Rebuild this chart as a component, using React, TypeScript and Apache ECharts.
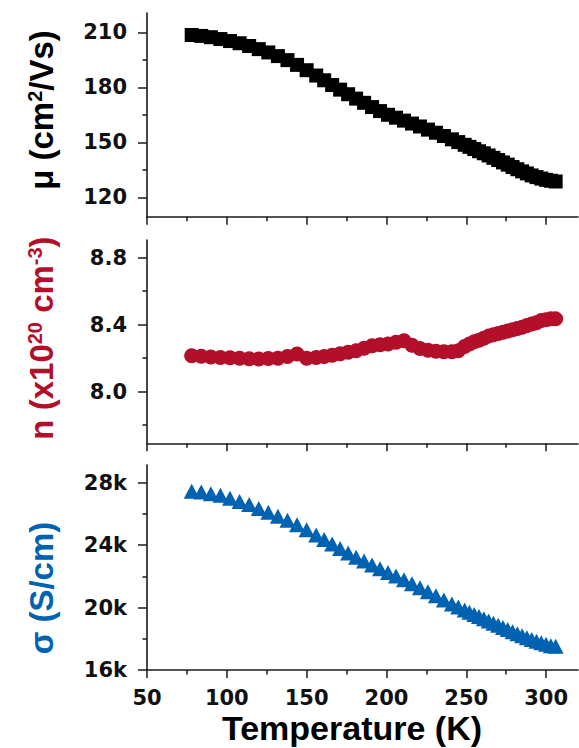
import React, { useEffect, useRef } from "react";
import * as echarts from "echarts";

const temps = [78, 84, 90, 96, 102, 108, 114, 120, 126, 132, 138, 144, 150, 156, 161, 166, 171, 176, 181, 186, 191, 196, 201, 206, 211, 216, 221, 226, 231, 236, 241, 245, 249, 252, 255, 258, 261, 264, 267, 270, 273, 276, 279, 282, 285, 288, 291, 294, 297, 300, 303, 306];

const mobility = [208.5, 208, 207.3, 206.3, 205.2, 204, 202.5, 200.8, 199, 197, 194.8, 192.2, 189.3, 186.4, 183.8, 181.2, 178.7, 176.2, 173.8, 171.5, 169.2, 167, 165, 163.4, 161.8, 160.2, 158.6, 156.9, 155.2, 153.4, 151.6, 150.1, 148.6, 147.5, 146.3, 145.1, 144, 142.8, 141.5, 140.3, 139, 137.8, 136.5, 135.3, 134.1, 133, 131.9, 131, 130.2, 129.5, 129, 128.6];

const carrier = [8.215, 8.212, 8.208, 8.205, 8.203, 8.2, 8.197, 8.195, 8.198, 8.2, 8.21, 8.225, 8.2, 8.205, 8.21, 8.218, 8.227, 8.235, 8.245, 8.26, 8.275, 8.28, 8.285, 8.295, 8.305, 8.278, 8.258, 8.248, 8.242, 8.238, 8.238, 8.245, 8.27, 8.285, 8.298, 8.308, 8.32, 8.332, 8.34, 8.348, 8.355, 8.362, 8.37, 8.378, 8.385, 8.395, 8.405, 8.412, 8.425, 8.43, 8.435, 8.435];

const conductivity = [27450, 27400, 27300, 27200, 27000, 26800, 26600, 26350, 26100, 25850, 25600, 25300, 24980, 24650, 24360, 24070, 23780, 23490, 23220, 22980, 22720, 22480, 22250, 22030, 21780, 21520, 21270, 21010, 20750, 20490, 20230, 20030, 19840, 19700, 19560, 19420, 19280, 19140, 19000, 18860, 18720, 18590, 18450, 18320, 18190, 18070, 17950, 17840, 17750, 17650, 17560, 17520];

const xMajorTicks = [50, 100, 150, 200, 250, 300];
const xMinorTicks = [75, 125, 175, 225, 275];
const muMajor = [120, 150, 180, 210];
const muMinor = [135, 165, 195];
const nMajor = [8.0, 8.4, 8.8];
const nMinor = [7.8, 8.2, 8.6];
const sigmaMajor = [16000, 20000, 24000, 28000];
const sigmaMinor = [18000, 22000, 26000];

const RED = "#B30F2B";
const BLUE = "#0062B1";
const AXIS = "#1a1a1a";

export default function App() {
  const ref = useRef<HTMLDivElement>(null);
  useEffect(() => {
    if (!ref.current) return;
    const chart = echarts.init(ref.current, null, { renderer: "svg" });
    const grids = [
      { left: 147, top: 13, width: 431, height: 203.7 },
      { left: 147, top: 240, width: 431, height: 203.3 },
      { left: 147, top: 465, width: 431, height: 205 },
    ];
    const labelFont = {
      fontFamily: "DejaVu Sans",
      fontWeight: "bold" as const,
      fontSize: 21,
      color: "#111",
    };
    const xAxes: any[] = [];
    const yAxes: any[] = [];
    grids.forEach((_, gi) => {
      xAxes.push({
        type: "value",
        gridIndex: gi,
        position: "bottom",
        min: 50,
        max: 320,
        splitLine: { show: false },
        axisLine: { show: true, onZero: false, lineStyle: { color: AXIS, width: 1.6 } },
        axisTick: { show: true, customValues: xMajorTicks, length: 8, lineStyle: { color: AXIS, width: 1.5 } },
        axisLabel: gi === 2 ? { show: true, customValues: xMajorTicks, margin: 17, ...labelFont } : { show: false },
      });
      xAxes.push({
        type: "value",
        gridIndex: gi,
        position: "bottom",
        min: 50,
        max: 320,
        splitLine: { show: false },
        axisLine: { show: false, onZero: false },
        axisTick: { show: true, customValues: xMinorTicks, length: 4.5, lineStyle: { color: AXIS, width: 1.5 } },
        axisLabel: { show: false },
      });
    });
    const yDefs = [
      { min: 109.4, max: 220.5, major: muMajor, minor: muMinor, fmt: (v: number) => String(Math.round(v)) },
      { min: 7.692, max: 8.906, major: nMajor, minor: nMinor, fmt: (v: number) => v.toFixed(1) },
      { min: 16000, max: 29134, major: sigmaMajor, minor: sigmaMinor, fmt: (v: number) => Math.round(v / 1000) + "k" },
    ];
    yDefs.forEach((d, gi) => {
      yAxes.push({
        type: "value",
        gridIndex: gi,
        position: "left",
        min: d.min,
        max: d.max,
        splitLine: { show: false },
        axisLine: { show: true, onZero: false, lineStyle: { color: AXIS, width: 1.6 } },
        axisTick: { show: true, customValues: d.major, length: 9, lineStyle: { color: AXIS, width: 1.5 } },
        axisLabel: { show: true, customValues: d.major, margin: 20, formatter: d.fmt, ...labelFont },
      });
      yAxes.push({
        type: "value",
        gridIndex: gi,
        position: "left",
        offset: 0,
        min: d.min,
        max: d.max,
        splitLine: { show: false },
        axisLine: { show: false, onZero: false },
        axisTick: { show: true, customValues: d.minor, length: 4.5, lineStyle: { color: AXIS, width: 1.5 } },
        axisLabel: { show: false },
      });
    });

    const titleFont = {
      fontFamily: "Liberation Sans",
      fontWeight: "bold" as const,
      fontSize: 33,
    };
    const supFont = {
      fontFamily: "Liberation Sans",
      fontWeight: "bold" as const,
      fontSize: 20,
      verticalAlign: "top" as const,
      padding: [0, 0, 12, 0],
    };

    chart.setOption({
      animation: false,
      backgroundColor: "#fff",
      grid: grids,
      xAxis: xAxes,
      yAxis: yAxes,
      series: [
        {
          type: "scatter",
          xAxisIndex: 0,
          yAxisIndex: 0,
          symbol: "rect",
          symbolSize: 14,
          itemStyle: { color: "#000", opacity: 1 },
          data: temps.map((t, i) => [t, mobility[i]]),
        },
        {
          type: "scatter",
          xAxisIndex: 2,
          yAxisIndex: 2,
          symbol: "circle",
          symbolSize: 15,
          itemStyle: { color: RED, opacity: 1 },
          data: temps.map((t, i) => [t, carrier[i]]),
        },
        {
          type: "scatter",
          xAxisIndex: 4,
          yAxisIndex: 4,
          symbol: "triangle",
          symbolSize: [16, 15],
          itemStyle: { color: BLUE, opacity: 1 },
          data: temps.map((t, i) => [t, conductivity[i]]),
        },
      ],
      graphic: [
        {
          type: "text",
          x: 41,
          y: 110,
          rotation: Math.PI / 2,
          style: {
            text: "μ (cm{sup|2}/Vs)",
            ...titleFont,
            fill: "#000",
            align: "center",
            verticalAlign: "middle",
            rich: { sup: { ...supFont, fill: "#000" } },
          },
        },
        {
          type: "text",
          x: 41,
          y: 338,
          rotation: Math.PI / 2,
          style: {
            text: "n (x10{sup|20} cm{sup|-3})",
            ...titleFont,
            fill: RED,
            align: "center",
            verticalAlign: "middle",
            rich: { sup: { ...supFont, fill: RED } },
          },
        },
        {
          type: "text",
          x: 41,
          y: 588,
          rotation: Math.PI / 2,
          style: {
            text: "σ (S/cm)",
            ...titleFont,
            fill: BLUE,
            align: "center",
            verticalAlign: "middle",
          },
        },
        {
          type: "text",
          x: 352,
          y: 728,
          style: {
            text: "Temperature (K)",
            ...titleFont,
            fontSize: 34,
            fill: "#000",
            align: "center",
            verticalAlign: "middle",
          },
        },
      ],
    });
    return () => chart.dispose();
  }, []);
  return (
    <div
      ref={ref}
      style={{ position: "fixed", left: 0, top: 0, width: 579, height: 748, background: "#fff" }}
    />
  );
}
